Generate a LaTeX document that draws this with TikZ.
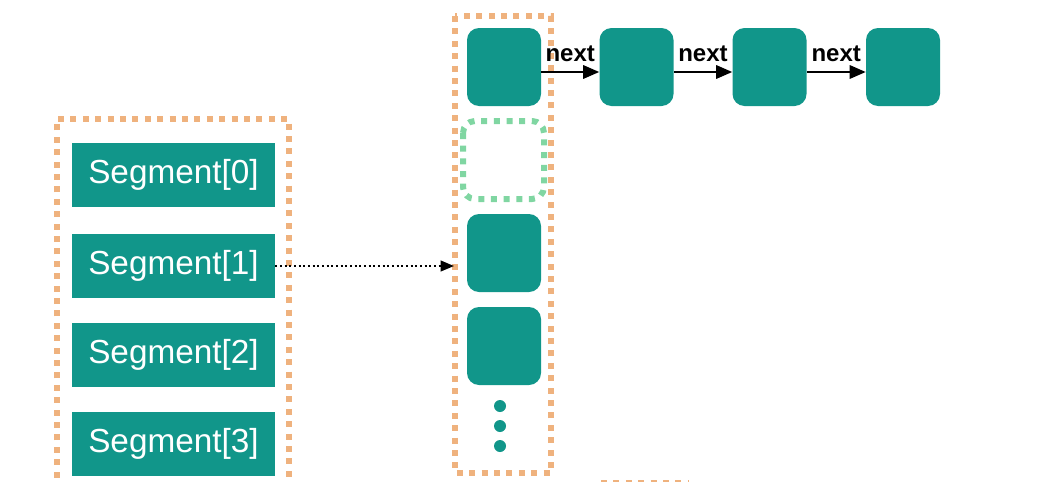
\documentclass[tikz,border=0pt]{standalone}
\usepackage{fontspec}
\setmainfont{Liberation Sans}
\usetikzlibrary{arrows.meta}
\definecolor{teal1}{HTML}{11968A}
\definecolor{orng}{HTML}{EFB27E}
\definecolor{grn}{HTML}{80D6A2}
\tikzset{
  segbox/.style={fill=teal1, draw=none, minimum width=203*0.75pt, minimum height=64*0.75pt, inner sep=0pt, text=white, font=\fontsize{25}{28}\selectfont},
  bucket/.style={fill=teal1, draw=none, rounded corners=12*0.75pt, minimum width=74*0.75pt, minimum height=78*0.75pt, inner sep=0pt},
  odot/.style={draw=orng, line width=4.5pt, dash pattern=on 4.5pt off 4.8pt},
  gdot/.style={draw=grn, line width=4.5pt, dash pattern=on 4.5pt off 5pt, rounded corners=12*0.75pt},
  nextarr/.style={draw=black, line width=1.6pt, -{Triangle[length=12pt,width=10pt]}},
  nextlbl/.style={font=\bfseries\fontsize{18}{20}\selectfont, inner sep=0pt}
}
\begin{document}
\begin{tikzpicture}[x=0.75pt,y=-0.75pt]
\useasboundingbox (0,0) rectangle (1064,482);
% left container
\draw[odot] (57,490) -- (57,119) -- (289,119) -- (289,490);
\node[segbox] (s0) at (173.5,175) {Segment[0]};
\node[segbox] (s1) at (173.5,266) {Segment[1]};
\node[segbox] (s2) at (173.5,355) {Segment[2]};
\node[segbox] (s3) at (173.5,444) {Segment[3]};
% middle container
\draw[odot] (455,16) rectangle (551,473);
\node[bucket] (b0) at (504,67) {};
\draw[gdot] (463,121) rectangle (544,199);
\node[bucket] (b2) at (504,253) {};
\node[bucket] (b3) at (504,346) {};
\node[circle, fill=teal1, inner sep=0pt, minimum size=12*0.75pt] (d1) at (500,406) {};
\node[circle, fill=teal1, inner sep=0pt, minimum size=12*0.75pt] (d2) at (500,426) {};
\node[circle, fill=teal1, inner sep=0pt, minimum size=12*0.75pt] (d3) at (500,446) {};
% chain
\node[bucket] (n1) at (636.5,67) {};
\node[bucket] (n2) at (769.5,67) {};
\node[bucket] (n3) at (903,67) {};
\draw[nextarr] (b0.east |- 0,72) -- (n1.west |- 0,72) node[nextlbl, midway, above=7pt] {next};
\draw[nextarr] (n1.east |- 0,72) -- (n2.west |- 0,72) node[nextlbl, midway, above=7pt] {next};
\draw[nextarr] (n2.east |- 0,72) -- (n3.west |- 0,72) node[nextlbl, midway, above=7pt] {next};
% dotted pointer
\coordinate (tip) at (454,266);
\draw[black, line width=1.5pt, dotted, -{Triangle[length=10pt,width=8pt]}] (s1.east) -- (tip);
% bottom fragment
\draw[odot] (601,483) -- (688,483);
\end{tikzpicture}
\end{document}
